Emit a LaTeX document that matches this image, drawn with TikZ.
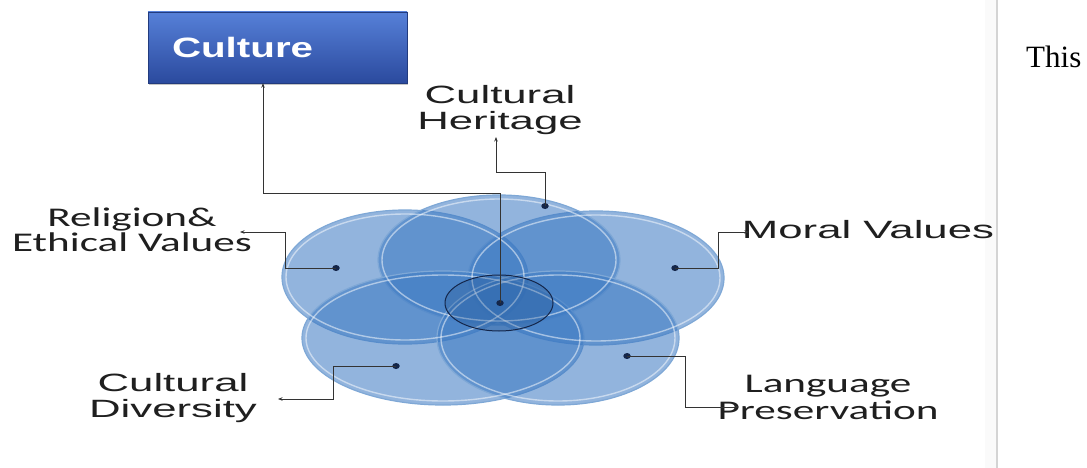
\documentclass[tikz,border=0pt]{standalone}
\usepackage{fontspec}
\setmainfont{Liberation Sans}
\newfontfamily\calibfont{Carlito}
\newfontfamily\seriffont{Liberation Serif}
\usetikzlibrary{arrows.meta,shadows,shapes.geometric}
\definecolor{ellfill}{HTML}{3A78C2}
\definecolor{ellrim}{HTML}{7FA8D6}
\definecolor{dotcol}{HTML}{14264A}
\definecolor{linecol}{HTML}{333333}
\definecolor{boxtop}{HTML}{5680D8}
\definecolor{boxbot}{HTML}{2B4A9E}
\definecolor{sepline}{HTML}{D4D4D4}
\definecolor{HubFill}{HTML}{2A5A94}
\tikzset{
  petal/.style={fill=ellfill, fill opacity=0.55, draw=ellrim, line width=1.2pt},
  rim/.style={draw=white, draw opacity=0.5, line width=1.4pt},
  hub/.style={fill=HubFill, fill opacity=0.3, draw=dotcol, line width=1pt},
  conn/.style={draw=linecol, line width=1pt, -{Stealth[length=4.5pt,width=3.5pt]}},
  dotnode/.style={ellipse, fill=dotcol, inner sep=0pt, minimum width=7.5pt, minimum height=6pt},
  arialab/.style={font=\fontsize{25}{25}\selectfont, inner sep=0pt, text=black!88},
  caliblab/.style={font=\calibfont\fontsize{27}{22}\selectfont, inner sep=0pt, text=black!88},
  culturebox/.style={draw=boxbot!80!black, top color=boxtop, bottom color=boxbot,
    drop shadow={shadow xshift=1pt, shadow yshift=-2pt, opacity=0.45},
    minimum width=259pt, minimum height=71pt, inner sep=0pt}
}
\begin{document}
\begin{tikzpicture}[x=1pt,y=-1pt]
\useasboundingbox (0,0) rectangle (1087,468);
\fill[white] (0,0) rectangle (1087,468);
% separator on right
\fill[black!2] (985,0) rectangle (996,468);
\draw[sepline, line width=2pt] (997,0) -- (997,468);
\node[font=\seriffont\fontsize{31}{31}\selectfont, anchor=base west, inner sep=0pt] (this) at (1026,68) {This};

% petals
\draw[petal] (405,277) ellipse [x radius=123, y radius=67];
\draw[petal] (596,278) ellipse [x radius=128, y radius=67];
\draw[petal] (499,260) ellipse [x radius=121, y radius=65];
\draw[petal] (443,338) ellipse [x radius=141, y radius=67];
\draw[petal] (558,338) ellipse [x radius=121, y radius=67];
\draw[rim] (405,277) ellipse [x radius=119, y radius=63];
\draw[rim] (596,278) ellipse [x radius=124, y radius=63];
\draw[rim] (499,260) ellipse [x radius=117, y radius=61];
\draw[rim] (443,338) ellipse [x radius=137, y radius=63];
\draw[rim] (558,338) ellipse [x radius=117, y radius=63];
\draw[hub] (499,303) ellipse [x radius=54, y radius=28];

% Culture box
\node[culturebox] (culture) at (277.5,47.5)
  {\makebox[211pt][l]{\fontsize{28}{28}\bfseries\selectfont\color{white}\scalebox{1.44}[1]{Culture}}};

% labels
\node[arialab] (heritage) at (500,111)
  {\scalebox{1.75}[1]{\begin{tabular}{@{}c@{}}Cultural\\Heritage\end{tabular}}};
\node[caliblab] (religion) at (132,233)
  {\scalebox{1.6}[1]{\begin{tabular}{@{}c@{}}Religion\&\\Ethical Values\end{tabular}}};
\node[arialab] (moral) at (868,230) {\scalebox{1.75}[1]{Moral Values}};
\node[arialab] (diversity) at (173,399)
  {\scalebox{1.75}[1]{\begin{tabular}{@{}c@{}}Cultural\\Diversity\end{tabular}}};
\node[caliblab, font=\calibfont\fontsize{27}{25}\selectfont] (language) at (828,401)
  {\scalebox{1.6}[1]{\begin{tabular}{@{}c@{}}Language\\Preservation\end{tabular}}};

% dots
\node[dotnode] (dc) at (500,303) {};
\node[dotnode] (dh) at (545,206) {};
\node[dotnode] (dr) at (336,268) {};
\node[dotnode] (dm) at (675,268) {};
\node[dotnode] (dd) at (396,366) {};
\node[dotnode] (dl) at (627,356) {};

% bends and tips
\coordinate (bc) at (500,193);
\coordinate (bh) at (496,172);
\coordinate (th) at (496,137);
\coordinate (br) at (285,232);
\coordinate (tr) at (240,232);
\coordinate (bm) at (718,232);
\coordinate (tm) at (749,232);
\coordinate (bd) at (333,399);
\coordinate (td) at (278,399);
\coordinate (bl) at (685,407);
\coordinate (tl) at (739,407);

% connectors
\draw[conn] (dc.center) -- (bc) -| ([xshift=-14.5pt]culture.south);
\draw[conn] (dh.center) |- (bh) -- (th);
\draw[conn] (dr.center) -| (br) -- (tr);
\draw[conn] (dm.center) -| (bm) -- (tm);
\draw[conn] (dd.center) -| (bd) -- (td);
\draw[conn] (dl.center) -| (bl) -- (tl);
\end{tikzpicture}
\end{document}
